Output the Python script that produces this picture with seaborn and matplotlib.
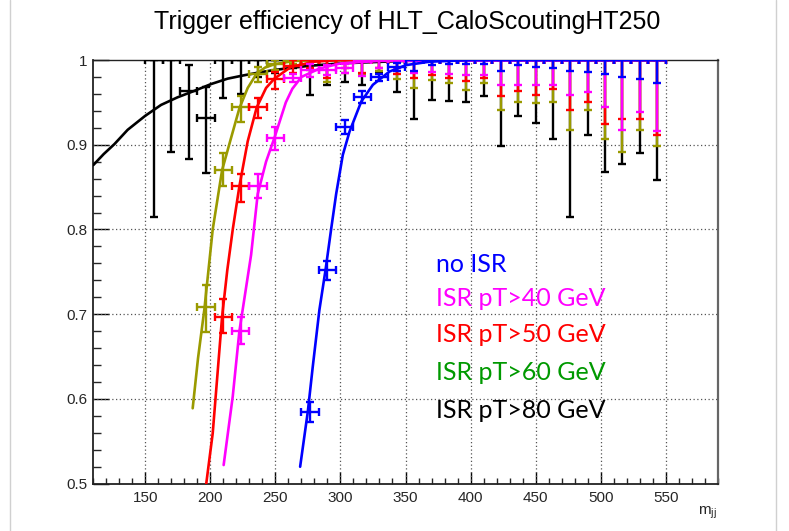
import numpy as np
import pandas as pd
import matplotlib
matplotlib.use("Agg")
import matplotlib.pyplot as plt
from matplotlib.ticker import MultipleLocator
from matplotlib.lines import Line2D
import seaborn as sns

# ---------------- data ----------------
title = "Trigger efficiency of HLT_CaloScoutingHT250"
x_ticks = [150, 200, 250, 300, 350, 400, 450, 500, 550]
y_ticks = [0.5, 0.6, 0.7, 0.8, 0.9, 1.0]
y_tick_labels = ["0.5", "0.6", "0.7", "0.8", "0.9", "1"]
legend_labels = ["no ISR", "ISR pT>40 GeV", "ISR pT>50 GeV", "ISR pT>60 GeV", "ISR pT>80 GeV"]
bin_half_width = 6.67

# black: ISR pT>80
black_x = [156.7, 170.0, 183.3, 196.7, 210.0, 223.3, 236.7, 250.0, 263.3, 276.7, 290.0, 303.3, 316.7,
           330.0, 343.3, 356.7, 370.0, 383.3, 396.7, 410.0, 423.3, 436.7, 450.0, 463.3, 476.7, 490.0,
           503.3, 516.7, 530.0, 543.3]
black_y = [1.0, 1.0, 0.963, 0.931, 1.0, 1.0, 1.0, 1.0, 1.0, 1.0, 1.0, 1.0, 1.0,
           1.0, 1.0, 1.0, 1.0, 1.0, 1.0, 1.0, 1.0, 1.0, 1.0, 1.0, 1.0, 1.0,
           1.0, 1.0, 1.0, 1.0]
black_lo = [0.815, 0.891, 0.883, 0.867, 0.955, 0.960, 0.980, 0.985, 0.990, 0.959, 0.971, 0.974, 0.970,
            0.985, 0.962, 0.930, 0.953, 0.952, 0.951, 0.958, 0.898, 0.934, 0.926, 0.907, 0.815, 0.912,
            0.868, 0.877, 0.890, 0.858]
black_hi = [1.0, 1.0, 0.994, 0.968, 1.0, 1.0, 1.0, 1.0, 1.0, 1.0, 1.0, 1.0, 1.0,
            1.0, 1.0, 1.0, 1.0, 1.0, 1.0, 1.0, 1.0, 1.0, 1.0, 1.0, 1.0, 1.0,
            1.0, 1.0, 1.0, 1.0]

# olive: ISR pT>60
olive_x = [196.7, 210.0, 223.3, 236.7, 250.0, 263.3, 276.7, 290.0, 303.3, 316.7, 330.0, 343.3, 356.7,
           370.0, 383.3, 396.7, 410.0, 423.3, 436.7, 450.0, 463.3, 476.7, 490.0, 503.3, 516.7, 530.0, 543.3]
olive_y = [0.708, 0.870, 0.944, 0.984, 0.995, 1.0, 1.0, 1.0, 1.0, 1.0, 1.0, 1.0, 1.0,
           1.0, 1.0, 1.0, 1.0, 1.0, 1.0, 1.0, 1.0, 1.0, 1.0, 1.0, 1.0, 1.0, 1.0]
olive_lo = [0.679, 0.851, 0.927, 0.974, 0.988, 0.995, 0.988, 0.974, 0.985, 0.982, 0.987, 0.978, 0.967,
            0.976, 0.973, 0.965, 0.973, 0.941, 0.951, 0.949, 0.951, 0.917, 0.941, 0.907, 0.891, 0.917, 0.898]
olive_hi = [0.735, 0.890, 0.958, 0.992, 1.0, 1.0, 1.0, 1.0, 1.0, 1.0, 1.0, 1.0, 1.0,
            1.0, 1.0, 1.0, 1.0, 1.0, 1.0, 1.0, 1.0, 1.0, 1.0, 1.0, 1.0, 1.0, 1.0]

# red: ISR pT>50
red_x = [210.0, 223.3, 236.7, 250.0, 263.3, 276.7, 290.0, 303.3, 316.7, 330.0, 343.3, 356.7,
         370.0, 383.3, 396.7, 410.0, 423.3, 436.7, 450.0, 463.3, 476.7, 490.0, 503.3, 516.7, 530.0, 543.3]
red_y = [0.697, 0.851, 0.944, 0.978, 0.9935, 1.0, 1.0, 1.0, 1.0, 1.0, 1.0, 1.0,
         1.0, 1.0, 1.0, 1.0, 1.0, 1.0, 1.0, 1.0, 1.0, 1.0, 1.0, 1.0, 1.0, 1.0]
red_lo = [0.678, 0.833, 0.931, 0.966, 0.985, 0.990, 0.979, 0.990, 0.985, 0.990, 0.984, 0.979,
          0.982, 0.979, 0.975, 0.979, 0.957, 0.963, 0.959, 0.966, 0.941, 0.950, 0.925, 0.930, 0.930, 0.912]
red_hi = [0.718, 0.866, 0.955, 0.986, 1.0, 1.0, 1.0, 1.0, 1.0, 1.0, 1.0, 1.0,
          1.0, 1.0, 1.0, 1.0, 1.0, 1.0, 1.0, 1.0, 1.0, 1.0, 1.0, 1.0, 1.0, 1.0]

# magenta: ISR pT>40
mag_x = [223.3, 236.7, 250.0, 263.3, 276.7, 290.0, 303.3, 316.7, 330.0, 343.3, 356.7,
         370.0, 383.3, 396.7, 410.0, 423.3, 436.7, 450.0, 463.3, 476.7, 490.0, 503.3, 516.7, 530.0, 543.3]
mag_y = [0.680, 0.851, 0.908, 0.979, 0.988, 0.988, 0.990, 1.0, 1.0, 1.0, 1.0,
         1.0, 1.0, 1.0, 1.0, 1.0, 1.0, 1.0, 1.0, 1.0, 1.0, 1.0, 1.0, 1.0, 1.0]
mag_lo = [0.665, 0.837, 0.894, 0.974, 0.980, 0.982, 0.985, 0.981, 0.990, 0.990, 0.985,
          0.986, 0.984, 0.982, 0.982, 0.971, 0.971, 0.971, 0.970, 0.959, 0.962, 0.945, 0.917, 0.939, 0.916]
mag_hi = [0.697, 0.866, 0.921, 0.984, 0.995, 0.994, 0.995, 1.0, 1.0, 1.0, 1.0,
          1.0, 1.0, 1.0, 1.0, 1.0, 1.0, 1.0, 1.0, 1.0, 1.0, 1.0, 1.0, 1.0, 1.0]

# blue: no ISR
blue_x = [276.7, 290.0, 303.3, 316.7, 330.0, 343.3, 356.7, 370.0, 383.3, 396.7, 410.0, 423.3,
          436.7, 450.0, 463.3, 476.7, 490.0, 503.3, 516.7, 530.0, 543.3]
blue_y = [0.585, 0.752, 0.9215, 0.956, 0.980, 0.992, 1.0, 1.0, 1.0, 1.0, 1.0, 1.0,
          1.0, 1.0, 1.0, 1.0, 1.0, 1.0, 1.0, 1.0, 1.0]
blue_lo = [0.573, 0.740, 0.913, 0.949, 0.975, 0.987, 0.987, 0.994, 0.995, 0.995, 0.995, 0.987,
           0.994, 0.992, 0.990, 0.987, 0.986, 0.984, 0.980, 0.977, 0.973]
blue_hi = [0.596, 0.763, 0.929, 0.963, 0.984, 0.996, 1.0, 1.0, 1.0, 1.0, 1.0, 1.0,
           1.0, 1.0, 1.0, 1.0, 1.0, 1.0, 1.0, 1.0, 1.0]

# fit curves
black_fit_x = [110, 118, 126.2, 136.4, 149.8, 162.1, 174.8, 187.7, 200.5, 213.3, 226, 239, 250.5, 275, 300, 350, 400, 550]
black_fit_y = [0.876, 0.889, 0.9007, 0.9176, 0.934, 0.947, 0.956, 0.9636, 0.9716, 0.978, 0.982, 0.9857, 0.9885, 0.993, 0.996, 0.999, 1.0, 1.0]
olive_fit_x = [186.4, 190.5, 195.4, 201.8, 209.0, 215.9, 222.3, 228.7, 235.6, 242.0, 249.2, 264.6, 300, 550]
olive_fit_y = [0.589, 0.648, 0.706, 0.800, 0.870, 0.908, 0.943, 0.967, 0.984, 0.991, 0.995, 0.999, 1.0, 1.0]
red_fit_x = [196.7, 201.8, 205.5, 209.0, 213.0, 217.2, 222.3, 228.7, 235.6, 242.8, 249.2, 262.1, 280, 300, 550]
red_fit_y = [0.4985, 0.5595, 0.630, 0.697, 0.752, 0.800, 0.851, 0.904, 0.944, 0.967, 0.978, 0.992, 0.998, 1.0, 1.0]
mag_fit_x = [210.2, 217.2, 222.3, 226.8, 231.3, 236.4, 242.8, 249.2, 258.0, 263.0, 270.0, 284.0, 300, 330, 550]
mag_fit_y = [0.522, 0.603, 0.680, 0.725, 0.770, 0.842, 0.880, 0.908, 0.950, 0.966, 0.980, 0.990, 0.996, 0.999, 1.0]
blue_fit_x = [269.0, 274.9, 278.7, 283.8, 288.5, 292.8, 296.7, 301.8, 307.0, 316.0, 324.9, 337.7, 350.5, 368.5, 400, 550]
blue_fit_y = [0.520, 0.585, 0.638, 0.705, 0.752, 0.800, 0.842, 0.888, 0.9156, 0.951, 0.9707, 0.9864, 0.994, 0.998, 1.0, 1.0]

# ---------------- plotting ----------------
sns.set_theme(style="white")
plt.rcParams["font.family"] = ["Liberation Sans", "DejaVu Sans"]
plt.rcParams["mathtext.fontset"] = "custom"
plt.rcParams["mathtext.rm"] = "Liberation Sans"
plt.rcParams["mathtext.it"] = "Liberation Sans"

fig = plt.figure(figsize=(7.89, 5.31), dpi=100)
ax = fig.add_axes([93.3 / 789, 1 - 483.7 / 531, (717.7 - 93.3) / 789, (483.7 - 60) / 531])

series = [
    ("black", "#000000", black_x, black_y, black_lo, black_hi, black_fit_x, black_fit_y),
    ("olive", "#9a9a00", olive_x, olive_y, olive_lo, olive_hi, olive_fit_x, olive_fit_y),
    ("red", "#ff0000", red_x, red_y, red_lo, red_hi, red_fit_x, red_fit_y),
    ("magenta", "#ff00ff", mag_x, mag_y, mag_lo, mag_hi, mag_fit_x, mag_fit_y),
    ("blue", "#0000ff", blue_x, blue_y, blue_lo, blue_hi, blue_fit_x, blue_fit_y),
]

for name, col, xs, ys, lo, hi, fx, fy in series:
    df = pd.DataFrame({"x": xs, "y": ys, "lo": lo, "hi": hi})
    yerr = np.vstack([df["y"] - df["lo"], df["hi"] - df["y"]])
    ax.errorbar(df["x"], df["y"], yerr=yerr, xerr=bin_half_width, fmt="none",
                ecolor=col, elinewidth=1.7, capsize=2.8, capthick=1.7, zorder=3)
    fdf = pd.DataFrame({"x": fx, "y": fy})
    sns.lineplot(data=fdf, x="x", y="y", ax=ax, color=col, linewidth=1.9,
                 sort=False, estimator=None, zorder=3)

ax.set_xlim(110, 590)
ax.set_ylim(0.5, 1.0)
ax.set_xticks(x_ticks)
ax.set_yticks(y_ticks)
ax.set_yticklabels(y_tick_labels)
ax.xaxis.set_minor_locator(MultipleLocator(10))
ax.yaxis.set_minor_locator(MultipleLocator(0.02))
ax.tick_params(axis="x", which="major", direction="in", length=8.6, width=1.0, labelsize=11,
               pad=5.5, top=False, bottom=True, color="black")
ax.tick_params(axis="x", which="minor", direction="in", length=4.3, width=1.0, top=False, bottom=True)
ax.tick_params(axis="y", which="major", direction="in", length=11.5, width=1.0, labelsize=11,
               pad=4, right=False, left=True, color="black")
ax.tick_params(axis="y", which="minor", direction="in", length=5.8, width=1.0, right=False, left=True)
ax.set_xlabel("")
ax.set_ylabel("")

for yv in [0.6, 0.7, 0.8, 0.9]:
    ax.axhline(yv, color="#555555", linestyle=(0, (1, 2)), linewidth=0.9, zorder=1)
for xv in x_ticks:
    ax.axvline(xv, color="#555555", linestyle=(0, (1, 2)), linewidth=0.9, zorder=1)

for sp in ["left", "bottom"]:
    ax.spines[sp].set_color("#222222")
    ax.spines[sp].set_linewidth(1.3)
ax.spines["top"].set_color("#222222")
ax.spines["top"].set_linewidth(1.0)
ax.spines["right"].set_color("#666666")
ax.spines["right"].set_linewidth(1.6)

fig.text(407 / 789, 1 - 22 / 531, title, ha="center", va="center", fontsize=18, color="black")
fig.text(717 / 789, 1 - 513 / 531, r"m$_{\mathrm{jj}}$", ha="right", va="center", fontsize=11)

legend_colors = ["#0000ff", "#ff00ff", "#ff0000", "#009900", "#000000"]
legend_y = [265, 299, 335, 373, 411]
for lab, c, yy in zip(legend_labels, legend_colors, legend_y):
    fig.text(436 / 789, 1 - yy / 531, lab, ha="left", va="center", fontsize=18,
             color=c, family=["Lato", "DejaVu Sans"])

for xx in [10, 776]:
    fig.add_artist(Line2D([xx / 789, xx / 789], [0, 1], color="#d0d0d0", linewidth=1.0))

fig.savefig("out.png", dpi=100)
